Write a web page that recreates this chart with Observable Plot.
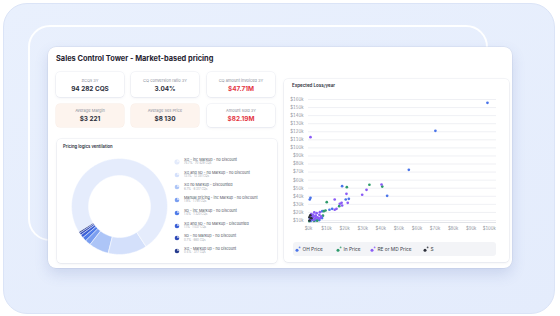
<!DOCTYPE html>
<html>
<head>
<meta charset="utf-8">
<script src="https://cdn.jsdelivr.net/npm/d3@7"></script>
<script src="https://cdn.jsdelivr.net/npm/@observablehq/plot@0.6"></script>
<style>
  html, body { margin: 0; padding: 0; background: #ffffff; }
  body { width: 560px; height: 316px; position: relative; overflow: hidden; font-family: Inter, "Noto Sans", sans-serif; }
  .abs { position: absolute; }
  .outer { left: 3px; top: 3px; width: 550px; height: 309px; border-radius: 24px;
           background: linear-gradient(160deg, #e9f0fd 0%, #e4ecfc 100%); border: 1px solid #dbe4f7; }
  .ring { left: 28px; top: 25px; width: 456px; height: 212px; border-radius: 22px; border: 2px solid rgba(255,255,255,0.95); }
  .card { left: 48px; top: 47px; width: 464px; height: 221px; border-radius: 8px; background: #fff;
          box-shadow: 0 6px 14px rgba(80,100,170,0.18), 0 0 0 0.5px rgba(200,208,228,0.6); }
  .title { left: 56px; top: 54px; font-size: 7.4px; line-height: 10px; font-weight: 700; color: #1f2330; white-space: nowrap; }
  .kpi { width: 68px; border-radius: 4px; background: #fff; box-shadow: 0 1px 3px rgba(90,100,140,0.10), 0 0 0 0.5px #eef0f5; text-align: center; }
  .kpi.peach { background: #fdf4ee; box-shadow: 0 0 0 0.5px #f8ece4; }
  .kpi .lab { position: absolute; left: 0; right: 0; font-size: 4px; line-height: 5px; color: #8a8f9b; }
  .kpi .val { position: absolute; left: 0; right: 0; font-size: 6.4px; line-height: 8px; font-weight: 700; color: #2a2e3a; }
  .kpi .val.red { color: #e3343f; }
  .panel { background: #fff; border-radius: 4px; box-shadow: 0 1px 3px rgba(90,100,140,0.10), 0 0 0 0.5px #eceef3; }
  .ptitle { font-size: 4.2px; line-height: 6px; font-weight: 600; color: #2a2e3a; white-space: nowrap; }
  .leg { font-size: 3.7px; line-height: 4px; color: #4a4f5c; white-space: nowrap; }
  .leg .sub { font-size: 2.9px; line-height: 3.5px; color: #a3a7b1; }
  .sleg { left: 293px; top: 242px; width: 203px; height: 14px; border-radius: 3px; background: #f3f4f7; }
  .sitem { font-size: 4.8px; line-height: 14px; color: #3b3f4b; white-space: nowrap; display: flex; align-items: center; }
  .sitem svg { margin-right: 1.5px; }
  svg { overflow: visible; }
</style>
</head>
<body>
<div class="abs outer"></div>
<div class="abs ring"></div>
<div class="abs card"></div>
<div class="abs title">Sales Control Tower - Market-based pricing</div>
<div id="kpis"></div>
<div class="abs panel" style="left:57px;top:139px;width:220px;height:124px;"></div>
<div class="abs ptitle" style="left:63px;top:144px;">Pricing logics ventilation</div>
<div id="donut" class="abs" style="left:69px;top:156px;"></div>
<div id="donutLegend"></div>
<div class="abs panel" style="left:284px;top:79px;width:225px;height:183px;"></div>
<div class="abs ptitle" style="left:292px;top:83px;font-size:4.5px;">Expected Loss/year</div>
<div id="scatter" class="abs" style="left:284px;top:92px;"></div>
<div class="abs sleg" id="scatterLegend"></div>
<script>
// ---------- data ----------
const kpiLabels = ["#CQs 3Y", "CQ conversion ratio 3Y", "CQ amount invoiced 3Y", "Average Margin", "Average Sell Price", "Amount sold 3Y"];
const kpiValues = ["94 282 CQS", "3.04%", "$47.71M", "$3 221", "$8 130", "$82.19M"];
const kpiRed = [false, false, true, false, false, true];
const kpiPeach = [false, false, false, true, true, false];

const pricingLogics = [
  "XG - inc Markup - no Discount",
  "XG and SD - no Markup - no Discount",
  "XG no Markup - Discounted",
  "Manual pricing - inc Markup - no Discount",
  "SD - inc Markup - no Discount",
  "XG and SD - no Markup - Discounted",
  "SD - no Markup - no Discount",
  "XG - Markup up - no Discount"
];
const pricingCounts = [70429, 12351, 6317, 1791, 1320, 1037, 660, 377];
const pricingColors = ["#e5ecfc", "#d4e0fb", "#adc5f7", "#7a9ef0", "#4f7be8", "#3a5fd6", "#2f4ab8", "#263b8e"];

const scatterSeries = ["OH Price", "In Price", "RE or MD Price", "S"];
const scatterColors = ["#4a74ea", "#2e9a6c", "#8b5cf6", "#2b2f3a"];
// [expected sell price $k, expected loss $k]
const ohPrice = [[99, 155.9], [70.2, 121.2], [55.5, 72.8], [18.6, 52.5], [43.5, 40.6], [1.1, 38.1], [0.7, 36],
  [20.6, 36], [22.3, 36.9], [13.1, 24.5], [11.6, 23.3], [7.6, 21.5], [0.8, 12], [2.2, 11], [3.8, 10.2], [5, 11],
  [1.2, 9.5], [6, 10.5], [7.5, 13], [2.5, 14.2]];
const inPrice = [[21.2, 51.3], [33.7, 54.3], [40.8, 52.0], [10.1, 32.7], [17, 27.7], [9.4, 22.4], [8.5, 21.5],
  [0.4, 9.3], [3, 9.5], [8, 16], [4.8, 9.8]];
const reMdPrice = [[1.1, 113.3], [40.4, 54.6], [21, 43.1], [29.7, 41.9], [32.1, 48], [14.5, 36], [18.3, 31.9],
  [17.3, 30.7], [21.7, 31.9], [18.6, 28.6], [15.5, 24.5], [14.5, 23.3], [6.3, 20.3],
  [1.5, 18], [2.5, 17], [3, 15], [4, 16], [5, 14], [2, 13], [3.5, 12], [6, 17], [4.5, 19], [1, 11],
  [2.8, 10.5], [5.5, 12.5], [7, 15], [3.2, 20], [6.5, 13], [1.8, 15.5], [4.2, 13.5]];
const sPrice = [[0.5, 14], [1, 16.5], [0.6, 10], [1.6, 12.8]];
const xTicks = [0, 10, 20, 30, 40, 50, 60, 70, 80, 90, 100];
const yTicks = [10, 20, 30, 40, 50, 60, 70, 80, 90, 100, 110, 120, 130, 140, 150, 160];

// ---------- KPI cards ----------
const kpiBox = document.getElementById("kpis");
const kpiLeft = [56, 131, 207];
kpiLabels.forEach((lab, i) => {
  const row = Math.floor(i / 3), col = i % 3;
  const d = document.createElement("div");
  d.className = "abs kpi" + (kpiPeach[i] ? " peach" : "");
  d.style.left = kpiLeft[col] + "px";
  d.style.top = (row === 0 ? 72 : 104) + "px";
  d.style.height = (row === 0 ? 25 : 23) + "px";
  d.innerHTML = `<div class="lab" style="top:${row === 0 ? 6 : 4}px">${lab}</div>` +
    `<div class="val${kpiRed[i] ? " red" : ""}" style="top:${row === 0 ? 13 : 11}px">${kpiValues[i]}</div>`;
  kpiBox.appendChild(d);
});

// ---------- Donut ----------
const total = d3.sum(pricingCounts);
const start = 238 * Math.PI / 180;
const arcs = d3.pie().sort(null).startAngle(start).endAngle(start + 2 * Math.PI)(pricingCounts);
const rOuter = 0.96, rInner = 0.62;
const poly = [];
arcs.forEach((a, i) => {
  const n = Math.max(3, Math.ceil((a.endAngle - a.startAngle) / 0.02));
  for (let k = 0; k <= n; k++) {
    const t = a.startAngle + (a.endAngle - a.startAngle) * k / n;
    poly.push({i, c: pricingColors[i], x: rOuter * Math.sin(t), y: rOuter * Math.cos(t)});
  }
  for (let k = n; k >= 0; k--) {
    const t = a.startAngle + (a.endAngle - a.startAngle) * k / n;
    poly.push({i, c: pricingColors[i], x: rInner * Math.sin(t), y: rInner * Math.cos(t)});
  }
});
document.getElementById("donut").appendChild(Plot.plot({
  width: 100, height: 100, margin: 0,
  x: {domain: [-1, 1], axis: null},
  y: {domain: [-1, 1], axis: null},
  style: {background: "transparent", overflow: "visible"},
  marks: [
    Plot.line(poly, {x: "x", y: "y", z: "i", fill: "c", stroke: "#ffffff", strokeWidth: 0.5, curve: "linear-closed"})
  ]
}));

// donut legend
const legBox = document.getElementById("donutLegend");
pricingLogics.forEach((lab, i) => {
  const pct = (100 * pricingCounts[i] / total).toFixed(1);
  const top = 158 + i * 12.7;
  const d = document.createElement("div");
  d.className = "abs leg";
  d.style.left = "174px";
  d.style.top = top + "px";
  d.innerHTML = `<svg width="6" height="6" style="position:absolute;left:0;top:1px">
      <circle cx="3" cy="3" r="2.3" fill="${pricingColors[i]}" stroke="${i === 0 ? '#d5def6' : 'none'}" stroke-width="0.4"/>
      <path d="M3,3 L3,0.7 A2.3,2.3 0 0 1 5.3,3 Z" fill="#fff" opacity="0.55"/></svg>
    <div style="position:absolute;left:10px;top:0">${lab}</div>
    <div class="sub" style="position:absolute;left:10px;top:4.4px">${pct}% · ${d3.format(",")(pricingCounts[i]).replace(/,/g, " ")} CQs</div>`;
  legBox.appendChild(d);
});

// ---------- Scatter ----------
const pts = [];
[ohPrice, inPrice, reMdPrice, sPrice].forEach((arr, si) =>
  arr.forEach(([x, y]) => pts.push({x, y, s: scatterSeries[si]})));
document.getElementById("scatter").appendChild(Plot.plot({
  width: 222, height: 146, marginLeft: 24, marginRight: 10, marginTop: 7, marginBottom: 16,
  style: {background: "transparent", fontFamily: "Inter, sans-serif", fontSize: "4.2px", color: "#8e929c", overflow: "visible"},
  x: {domain: [0, 104], ticks: xTicks, tickFormat: d => `$${d}k`, tickSize: 0, tickPadding: 5, label: null},
  y: {domain: [7.5, 160], ticks: yTicks, tickFormat: d => `$${d}k`, tickSize: 0, tickPadding: 5, label: null},
  color: {domain: scatterSeries, range: scatterColors},
  marks: [
    Plot.ruleY(yTicks, {stroke: "#e8eaef", strokeWidth: 0.7}),
    Plot.ruleY([7.5], {stroke: "#d6d9e0", strokeWidth: 0.7}),
    Plot.dot(pts, {x: "x", y: "y", fill: "s", r: 1.35})
  ]
}));

// scatter legend
const sl = document.getElementById("scatterLegend");
const sLeft = [2, 43, 77, 130];
scatterSeries.forEach((name, i) => {
  const d = document.createElement("div");
  d.className = "abs sitem";
  d.style.left = sLeft[i] + "px";
  d.style.top = "0px";
  d.innerHTML = `<svg width="6" height="6"><circle cx="2" cy="4.3" r="1.5" fill="${scatterColors[i]}"/>` +
    `<circle cx="4.6" cy="1.4" r="0.9" fill="${scatterColors[i]}" opacity="0.8"/></svg>${name}`;
  sl.appendChild(d);
});
</script>
</body>
</html>
